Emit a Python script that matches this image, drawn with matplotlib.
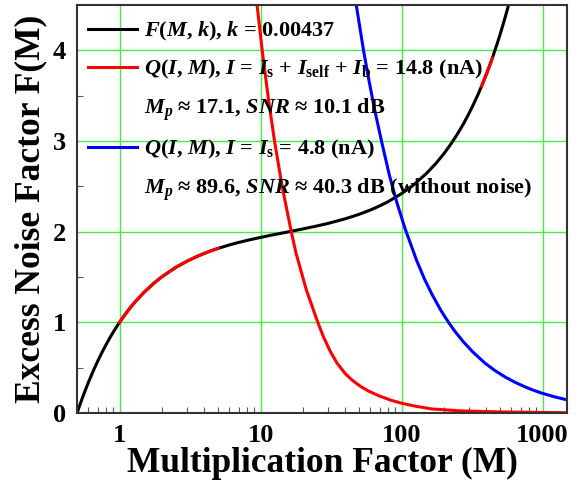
import matplotlib
matplotlib.use('Agg')
import matplotlib.pyplot as plt

# excess noise factor F(M, k), k = 0.00437
M_black = [0.5, 0.51, 0.52, 0.53, 0.54, 0.55, 0.58, 0.6, 0.62, 0.65, 0.67, 0.7, 0.75, 0.8, 0.85, 0.9, 0.95, 1,
           1.1, 1.2, 1.3, 1.5, 1.75, 2, 2.5, 3, 3.5, 4, 4.5, 5, 6, 7, 8, 10, 12, 15, 20, 25, 30, 40, 50, 60, 70,
           80, 100, 120, 150, 175, 200, 225, 250, 275, 300, 325, 350, 370, 400, 425, 440, 450, 475, 500, 525,
           550, 575, 600]
F_black = [0.002, 0.041, 0.079, 0.115, 0.150, 0.183, 0.277, 0.335, 0.388, 0.462, 0.508, 0.572, 0.667, 0.750,
           0.824, 0.889, 0.947, 1.0, 1.091, 1.167, 1.231, 1.334, 1.430, 1.502, 1.604, 1.672, 1.722, 1.760, 1.790,
           1.814, 1.852, 1.880, 1.902, 1.935, 1.961, 1.990, 2.029, 2.061, 2.089, 2.141, 2.190, 2.237, 2.283,
           2.328, 2.418, 2.507, 2.640, 2.750, 2.860, 2.970, 3.080, 3.189, 3.299, 3.409, 3.518, 3.606, 3.737,
           3.846, 3.912, 3.956, 4.065, 4.175, 4.284, 4.393, 4.502, 4.612]

# red parts drawn on the F curve
M_seg1 = [1, 1.1, 1.2, 1.3, 1.5, 1.75, 2, 2.5, 3, 3.5, 4, 4.5, 5]
F_seg1 = [1.0, 1.091, 1.167, 1.231, 1.334, 1.430, 1.502, 1.604, 1.672, 1.722, 1.760, 1.790, 1.814]
M_seg2 = [370, 400, 425, 440]
F_seg2 = [3.606, 3.737, 3.846, 3.912]

# Q(I, M), I = 14.8 nA
M_red = [9.44, 10.26, 11.38, 12.56, 14.22, 16.5, 17.84, 21.1, 25.54, 27.99, 31.21, 34.82, 39.86, 44.46, 50.91,
         58.3, 68.61, 83.07, 100.5, 124.8, 164, 260, 499, 1500]
Q_red = [4.5, 4.0, 3.454, 2.995, 2.498, 1.999, 1.761, 1.357, 0.992, 0.835, 0.678, 0.550, 0.433, 0.363, 0.294,
         0.240, 0.190, 0.142, 0.105, 0.074, 0.043, 0.022, 0.010, 0.001]

# Q(I, M), I = 4.8 nA
M_blue = [47.7, 53.7, 58, 64.3, 72, 82, 92.6, 106, 128, 145, 164, 190, 215, 240, 274, 320, 391, 460, 542, 640,
          750, 850, 985, 1200, 1500]
Q_blue = [4.5, 4.0, 3.71, 3.35, 3.0, 2.62, 2.32, 2.03, 1.68, 1.48, 1.31, 1.13, 1.0, 0.895, 0.785, 0.672, 0.548,
          0.466, 0.396, 0.336, 0.287, 0.253, 0.218, 0.179, 0.142]

x_ticks = [1, 10, 100, 1000]
x_ticklabels = ['1', '10', '100', '1000']
y_ticks = [0, 1, 2, 3, 4]

labels = [r'$F$($M$, $k$), $k$ = 0.00437',
          r'$Q$($I$, $M$), $I$ = $I_{\rm s}$ + $I_{\rm self}$ + $I_{\rm b}$ = 14.8 (nA)',
          r'$M_p$ ≈ 17.1, $SNR$ ≈ 10.1 dB',
          r'$Q$($I$, $M$), $I$ = $I_{\rm s}$ = 4.8 (nA)',
          r'$M_p$ ≈ 89.6, $SNR$ ≈ 40.3 dB (without noise)']

plt.rcParams['font.family'] = ['Liberation Serif', 'DejaVu Serif']
plt.rcParams['font.weight'] = 'bold'
plt.rcParams['mathtext.fontset'] = 'custom'
plt.rcParams['mathtext.rm'] = 'Liberation Serif:bold'
plt.rcParams['mathtext.it'] = 'Liberation Serif:italic:bold'
plt.rcParams['mathtext.bf'] = 'Liberation Serif:bold'

fig = plt.figure(figsize=(5.76, 4.88), dpi=100)
ax = fig.add_axes([0.134, 0.154, 0.851, 0.836])

lw = 2.2
h1, = ax.plot(M_black, F_black, color='black', lw=lw)
ax.plot(M_seg1, F_seg1, color='red', lw=lw)
ax.plot(M_seg2, F_seg2, color='red', lw=lw)
h2, = ax.plot(M_red, Q_red, color='red', lw=lw)
h4, = ax.plot(M_blue, Q_blue, color='blue', lw=lw)
h3, = ax.plot([], [], color='none')
h5, = ax.plot([], [], color='none')

ax.set_xscale('log')
ax.set_xlim(0.5, 1500)
ax.set_ylim(0, 4.5)
ax.set_xticks(x_ticks)
ax.set_xticklabels(x_ticklabels)
ax.set_yticks(y_ticks)
ax.set_yticks([0.5, 1.5, 2.5, 3.5], minor=True)
ax.grid(True, which='major', color='#44ee44', lw=1)

ax.tick_params(which='both', direction='in', top=False, right=False)
ax.tick_params(which='major', length=0, labelsize=19, pad=8)
ax.tick_params(which='minor', length=4, width=0.8, color='0.35')
for s in ax.spines.values():
    s.set_color('#333333')
    s.set_linewidth(1.5)

ax.set_xlabel('Multiplication Factor (M)', fontsize=25.5, fontweight='bold', labelpad=0)
ax.set_ylabel('Excess Noise Factor F(M)', fontsize=25.5, fontweight='bold', labelpad=4)

ax.legend([h1, h2, h3, h4, h5], labels, loc='upper left', bbox_to_anchor=(0.0, 0.99),
          frameon=False, fontsize=16, handlelength=2.2, handletextpad=0.3,
          labelspacing=0.68, borderpad=0.3, borderaxespad=0.2)

plt.savefig('out.png', dpi=100)
